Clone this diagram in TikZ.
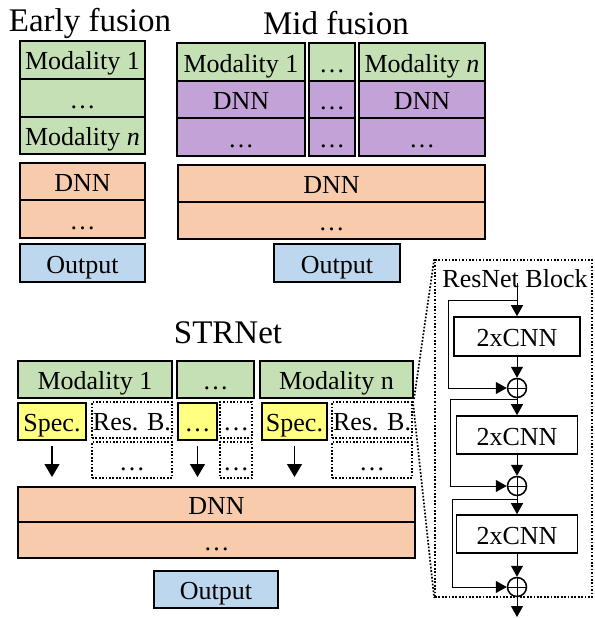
\documentclass[tikz,border=0pt]{standalone}
\usepackage{fontspec}
\setmainfont{Liberation Serif}
\usetikzlibrary{arrows.meta}
\definecolor{grn}{HTML}{C5E0B4}
\definecolor{pur}{RGB}{195,163,215}
\definecolor{org}{HTML}{F8CBAD}
\definecolor{blu}{HTML}{BDD7EE}
\definecolor{yel}{RGB}{255,255,128}
\newcommand\boxfont{\fontsize{26}{30}\selectfont}
\newcommand\titlefont{\fontsize{33}{38}\selectfont}
\begin{document}
\begin{tikzpicture}[x=1pt,y=-1pt,
  title/.style={anchor=base,font=\titlefont,inner sep=0pt},
  blk/.style={draw,line width=2pt,inner sep=0pt,text height=20pt,text depth=0pt,font=\boxfont},
  sz/.style 2 args={minimum width=#1pt,minimum height=#2pt},
  dotl/.style={line width=1.7pt,dash pattern=on 1.7pt off 1.7pt},
  dbox/.style={draw,dotl,inner sep=0pt,text height=20pt,text depth=0pt,font=\boxfont},
  rbox/.style={draw,line width=1.6pt,inner sep=0pt,text height=20pt,text depth=0pt,font=\boxfont,fill=white},
  sum/.style={draw,circle,line width=1.5pt,minimum size=19pt,inner sep=0pt},
  sarr/.style={line width=1.2pt,-{Triangle[width=15pt,length=13pt]}},
  rarr/.style={line width=1pt,-{Triangle[width=12pt,length=11pt]}}]
\useasboundingbox (0,0) rectangle (594,618);

% Early fusion
\node[title] (t1) at (90,32) {Early fusion};
\node[blk,fill=grn,sz={125}{38}] (e1) at (82.5,60) {Modality 1};
\node[blk,fill=grn,sz={125}{38}] (e2) at (82.5,98) {…};
\node[blk,fill=grn,sz={125}{37}] (e3) at (82.5,135.5) {Modality \textit{n}};
\node[blk,fill=org,sz={125}{37}] (e4) at (82.5,181.5) {DNN};
\node[blk,fill=org,sz={125}{38}] (e5) at (82.5,219) {…};
\node[blk,fill=blu,sz={125}{38}] (e6) at (82.5,263) {Output};

% Mid fusion
\node[title] (t2) at (336,35) {Mid fusion};
\node[blk,fill=grn,sz={128}{38}] (m1) at (241,62) {Modality 1};
\node[blk,fill=pur,sz={128}{37}] (m2) at (241,99.5) {DNN};
\node[blk,fill=pur,sz={128}{38}] (m3) at (241,137) {…};
\node[blk,fill=grn,sz={46}{38}] (md1) at (332,62) {…};
\node[blk,fill=pur,sz={46}{37}] (md2) at (332,99.5) {…};
\node[blk,fill=pur,sz={46}{38}] (md3) at (332,137) {…};
\node[blk,fill=grn,sz={126}{38}] (mn1) at (422,62) {Modality \textit{n}};
\node[blk,fill=pur,sz={126}{37}] (mn2) at (422,99.5) {DNN};
\node[blk,fill=pur,sz={126}{38}] (mn3) at (422,137) {…};
\node[blk,fill=org,sz={307}{37}] (m4) at (331.5,183.5) {DNN};
\node[blk,fill=org,sz={307}{37}] (m5) at (331.5,220.5) {…};
\node[blk,fill=blu,sz={126}{38}] (m6) at (337,263) {Output};

% STRNet
\node[title] (t3) at (228,343) {STRNet};
\node[blk,fill=grn,sz={154}{37}] (s1) at (95,379.5) {Modality 1};
\node[blk,fill=grn,sz={77}{37}] (s2) at (215.5,379.5) {…};
\node[blk,fill=grn,sz={153}{37}] (s3) at (336.5,379.5) {Modality n};
\node[blk,fill=yel,sz={68}{37}] (sp1) at (52,421.5) {Spec.};
\node[dbox,sz={80}{36}] (rb1) at (132,420) {Res. B.};
\node[dbox,sz={80}{36}] (rd1) at (132,460) {…};
\node[blk,fill=yel,sz={39}{37}] (sp2) at (197.5,421.5) {…};
\node[dbox,sz={32}{36}] (rb2) at (236,420) {…};
\node[dbox,sz={32}{36}] (rd2) at (236,460) {…};
\node[blk,fill=yel,sz={65}{37}] (sp3) at (294.5,421.5) {Spec.};
\node[dbox,sz={80}{36}] (rb3) at (372,420) {Res. B.};
\node[dbox,sz={80}{36}] (rd3) at (372,460) {…};
\node[blk,fill=org,sz={397}{35}] (sd1) at (216.5,504.5) {DNN};
\node[blk,fill=org,sz={397}{36}] (sd2) at (216.5,540) {…};
\node[blk,fill=blu,sz={124}{37}] (so) at (216,589.5) {Output};
\foreach \s in {sp1,sp2,sp3}
  \draw[sarr,shorten <=5pt,shorten >=9pt] (\s.south) -- (\s.south |- sd1.north);

% ResNet block
\node[draw,dotl,sz={157}{337}] (rn) at (513.5,428.5) {};
\draw[dotl] (s3.south east) -- (rn.north west);
\draw[dotl] (rb3.north east) -- (rn.south west);
\node[anchor=base,font=\boxfont,inner sep=0pt] (rt) at (515,287) {ResNet Block};
\coordinate (in) at (517,283);
\node[rbox,sz={126}{39}] (r1) at (517,336.5) {2xCNN};
\node[sum] (c1) at (517,388) {};
\node[rbox,sz={121}{38}] (r2) at (517,435) {2xCNN};
\node[sum] (c2) at (517,486) {};
\node[rbox,sz={121}{38}] (r3) at (517,534) {2xCNN};
\node[sum] (c3) at (517,587) {};
\coordinate (out) at (517,617);
\coordinate (k1) at (517,300);
\coordinate (k2) at (517,399);
\coordinate (k3) at (517,499);
\foreach \c in {c1,c2,c3}
  \draw[line width=1pt] (\c.north) -- (\c.south) (\c.west) -- (\c.east);
\draw[rarr] (in) -- (r1.north);
\draw[rarr] (r1.south) -- (c1.north);
\draw[rarr] (c1.south) -- (r2.north);
\draw[rarr] (r2.south) -- (c2.north);
\draw[rarr] (c2.south) -- (r3.north);
\draw[rarr] (r3.south) -- (c3.north);
\draw[rarr] (c3.south) -- (out);
\draw[rarr] (k1) -- (448,300) |- (c1.west);
\draw[rarr] (k2) -- (450,399) |- (c2.west);
\draw[rarr] (k3) -- (452,499) |- (c3.west);
\end{tikzpicture}
\end{document}
